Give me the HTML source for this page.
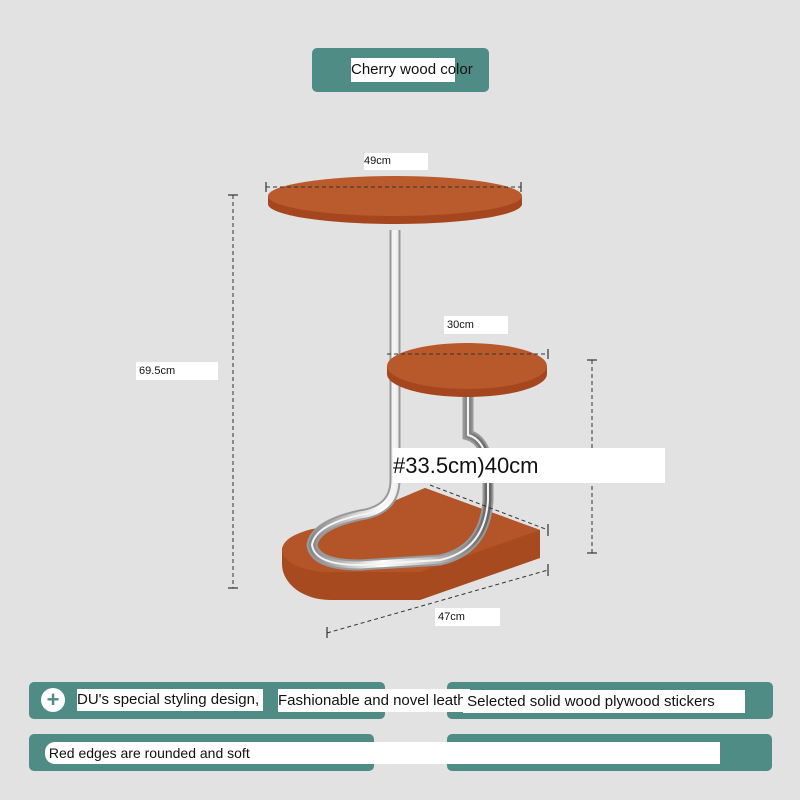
<!DOCTYPE html>
<html><head><meta charset="utf-8"><style>
html,body{margin:0;padding:0}
body{width:800px;height:800px;background:#e2e2e2;position:relative;overflow:hidden;font-family:"Liberation Sans",sans-serif}
.t{position:absolute;background:#4f8c86;border-radius:5px}
.w{position:absolute;background:#fff;color:#111;white-space:nowrap;overflow:visible}
</style></head><body>
<svg width="800" height="800" style="position:absolute;left:0;top:0">
<defs>
<linearGradient id="ch" x1="0" x2="1"><stop offset="0" stop-color="#888"/><stop offset="0.4" stop-color="#fff"/><stop offset="0.7" stop-color="#bbb"/><stop offset="1" stop-color="#666"/></linearGradient>
</defs>
<!-- base -->
<path d="M330 528 L425 488 L540 530 L540 558 L420 600 L330 600 A48 36 0 0 1 282 564 L282 548 A48 36 0 0 1 330 528 Z" fill="#a84a1f"/>
<path d="M330 528 L425 488 L540 530 L420 572 L330 572 A48 22 0 0 1 330 528 Z" fill="#b35528"/>
<!-- chrome tubes -->
<path d="M395 230 L395 480 Q395 510 360 515 Q315 525 312 545 Q315 565 360 565 L440 560 Q485 550 488 500 L488 470 Q486 440 468 435 L468 395" fill="none" stroke="#999" stroke-width="11"/>
<path d="M395 230 L395 480 Q395 510 360 515 Q315 525 312 545 Q315 565 360 565 L440 560 Q485 550 488 500 L488 470 Q486 440 468 435 L468 395" fill="none" stroke="url(#ch)" stroke-width="7"/>
<path d="M395 230 L395 480 Q395 510 360 515 Q315 525 312 545 Q315 565 360 565 L440 560 Q485 550 488 500 L488 470 Q486 440 468 435 L468 395" fill="none" stroke="#f4f4f4" stroke-width="2"/>
<!-- small shelf -->
<path d="M387 366 L387 374 A80 23 0 0 0 547 374 L547 366 Z" fill="#a5461e"/>
<ellipse cx="467" cy="366" rx="80" ry="23" fill="#b8592b"/>
<!-- top -->
<path d="M268 196 L268 204 A127 20 0 0 0 522 204 L522 196 Z" fill="#a5461e"/>
<ellipse cx="395" cy="196" rx="127" ry="20" fill="#b95b2c"/>
<!-- dimension lines -->
<g stroke="#333" stroke-width="1" stroke-dasharray="4,3" fill="none">
<line x1="233" y1="195" x2="233" y2="588"/>
<line x1="592" y1="360" x2="592" y2="553"/>
<line x1="266" y1="187" x2="521" y2="187"/>
<line x1="387" y1="354" x2="548" y2="354"/>
<line x1="327" y1="633" x2="548" y2="570"/>
<line x1="430" y1="485" x2="548" y2="530"/>
</g>
<g stroke="#333" stroke-width="1.2">
<line x1="228" y1="195" x2="238" y2="195"/><line x1="228" y1="588" x2="238" y2="588"/>
<line x1="587" y1="360" x2="597" y2="360"/><line x1="587" y1="553" x2="597" y2="553"/>
<line x1="266" y1="182" x2="266" y2="192"/><line x1="521" y1="182" x2="521" y2="192"/>
<line x1="548" y1="349" x2="548" y2="359"/><line x1="327" y1="627" x2="327" y2="638"/>
<line x1="548" y1="564" x2="548" y2="576"/><line x1="548" y1="524" x2="548" y2="536"/>
</g>
</svg>
<div class="t" style="left:312px;top:48px;width:177px;height:44px"></div>
<div class="w" style="left:351px;top:58px;width:104px;height:24px;font-size:15px;line-height:24px">Cherry wood color</div>
<div class="w" style="left:364px;top:153px;width:64px;height:17px;font-size:11px;line-height:17px">49cm</div>
<div class="w" style="left:444px;top:316px;width:64px;height:18px;font-size:11px;line-height:18px">&nbsp;30cm</div>
<div class="w" style="left:136px;top:362px;width:82px;height:18px;font-size:11px;line-height:18px">&nbsp;69.5cm</div>
<div class="w" style="left:435px;top:608px;width:65px;height:18px;font-size:11px;line-height:18px">&nbsp;47cm</div>
<div class="w" style="left:393px;top:448px;width:272px;height:35px;font-size:22px;line-height:35px">#33.5cm)40cm</div>
<div class="t" style="left:29px;top:682px;width:356px;height:37px"></div>
<div class="t" style="left:447px;top:682px;width:326px;height:37px"></div>
<div class="t" style="left:29px;top:734px;width:345px;height:37px"></div>
<div class="t" style="left:447px;top:734px;width:325px;height:37px"></div>
<div style="position:absolute;left:41px;top:688px;width:24px;height:24px;border-radius:50%;background:#fff;color:#4f8c86;font-size:22px;line-height:24px;text-align:center;font-weight:bold">+</div>
<div class="w" style="left:77px;top:689px;width:186px;height:22px;font-size:15px;line-height:22px">DU's special styling design,</div>
<div class="w" style="left:278px;top:689px;width:192px;height:23px;font-size:15px;line-height:23px;overflow:hidden">Fashionable and novel leather</div>
<div class="w" style="left:463px;top:690px;width:282px;height:23px;font-size:15px;line-height:23px">&nbsp;Selected solid wood plywood stickers</div>
<div class="w" style="left:45px;top:742px;width:675px;height:22px;font-size:14px;line-height:22px;border-radius:10px 0 0 10px">&nbsp;Red edges are rounded and soft</div>
</body></html>
